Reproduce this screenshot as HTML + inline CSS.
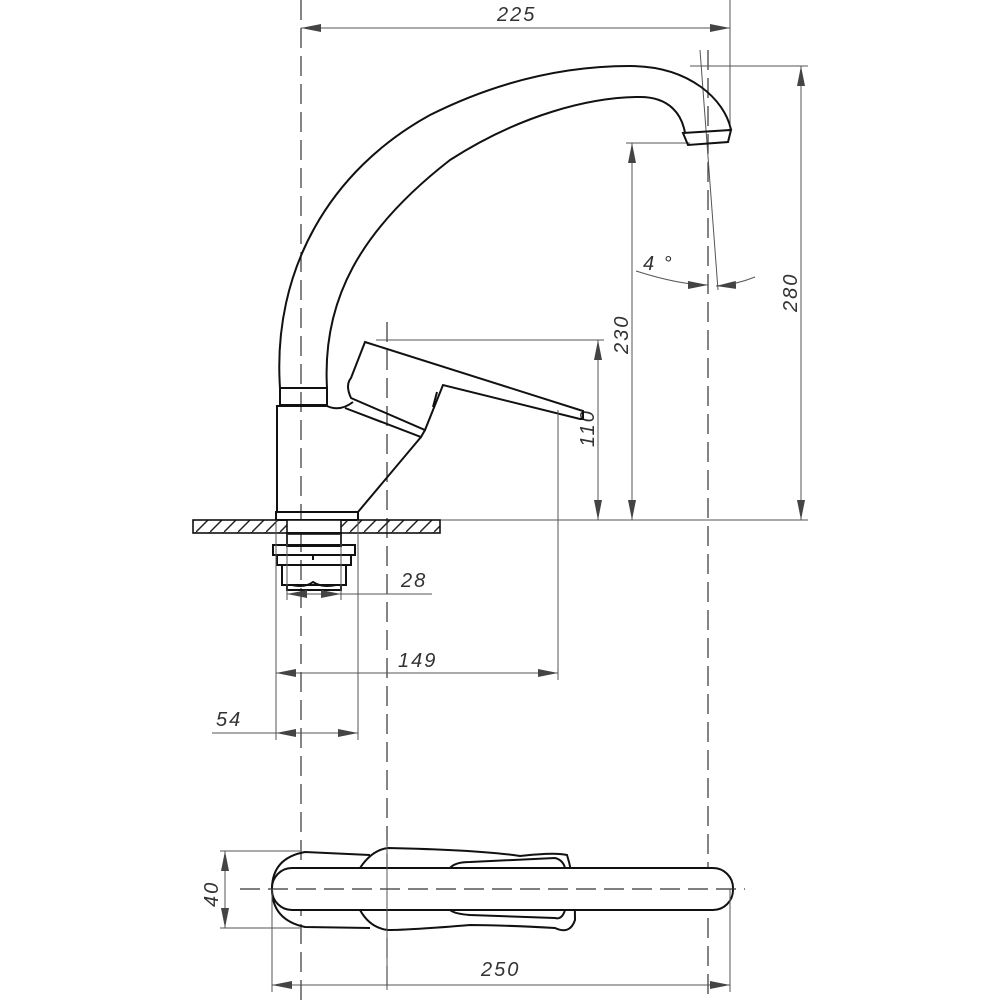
<!DOCTYPE html>
<html><head><meta charset="utf-8"><style>
html,body{margin:0;padding:0;background:#fff}
svg{display:block}
text{font-family:"Liberation Sans",sans-serif;font-style:italic;font-size:20px;letter-spacing:2px;fill:#333}
.o{fill:none;stroke:#111;stroke-width:2}
.d{fill:none;stroke:#555;stroke-width:1}
.c{fill:none;stroke:#333;stroke-width:1.2;stroke-dasharray:20 8}
</style></head><body>
<svg width="1000" height="1000" viewBox="0 0 1000 1000">
<defs>
<marker id="a" viewBox="0 0 20 8" refX="20" refY="4" markerWidth="20" markerHeight="8" orient="auto-start-reverse" markerUnits="userSpaceOnUse"><path d="M0,0 L20,4 L0,8z" fill="#444"/></marker>
<pattern id="h" width="14" height="14" patternUnits="userSpaceOnUse"><path d="M0,14 L14,0" stroke="#222" stroke-width="1.5"/></pattern>
</defs>
<line class="c" x1="301" y1="0" x2="301" y2="1000"/>
<line class="c" x1="387" y1="322" x2="387" y2="990"/>
<line class="c" x1="708" y1="50" x2="708" y2="995"/>
<line class="d" x1="730" y1="0" x2="730" y2="132"/>
<line class="d" x1="301" y1="28" x2="730" y2="28" marker-start="url(#a)" marker-end="url(#a)"/>
<text x="497" y="21">225</text>
<line class="d" x1="690" y1="66" x2="808" y2="66"/>
<line class="d" x1="801" y1="66" x2="801" y2="520" marker-start="url(#a)" marker-end="url(#a)"/>
<text transform="translate(797,312) rotate(-90)">280</text>
<line class="d" x1="626" y1="143" x2="690" y2="143"/>
<line class="d" x1="632" y1="143" x2="632" y2="520" marker-start="url(#a)" marker-end="url(#a)"/>
<text transform="translate(628,354) rotate(-90)">230</text>
<line class="d" x1="376" y1="340" x2="604" y2="340"/>
<line class="d" x1="598" y1="340" x2="598" y2="520" marker-start="url(#a)" marker-end="url(#a)"/>
<text transform="translate(594,447) rotate(-90)">110</text>
<line class="d" x1="440" y1="520" x2="808" y2="520"/>
<line class="d" x1="700" y1="50" x2="718" y2="290"/>
<path class="d" d="M636,271 Q680,285 708,285" marker-end="url(#a)"/>
<path class="d" d="M755,277 Q735,285 716,286" marker-end="url(#a)"/>
<text x="643" y="270">4 °</text>
<path class="o" d="M280,388 C272,270 330,170 430,115 C510,75 580,66 630,66 C690,66 725,100 731,130"/>
<path class="o" d="M327,388 C322,300 360,230 450,160 C520,115 590,97 640,97 C670,97 682,115 685,133"/>
<polygon class="o" points="683,133 731,130 728,142 688,145"/>
<rect class="o" x="280" y="388" width="47" height="17"/>
<path class="o" d="M277,512 L277,406 L327,406 Q340,412 353,402"/>
<path class="o" d="M365,342 L583,411 L583,419 L580,419 L443,385 L425,430 L351,398 Q345,385 351,378 Z"/>
<path class="o" d="M345,408 L421,437 L425,430"/>
<path class="o" d="M421,437 L358,512"/>
<path class="o" d="M437,392 L433,407"/>
<rect class="o" x="276" y="512" width="82" height="8"/>
<rect x="193" y="520" width="247" height="13" fill="url(#h)" stroke="#111" stroke-width="1.6"/>
<rect x="287" y="520" width="54" height="14" fill="#fff" stroke="#111" stroke-width="1.6"/>
<rect class="o" x="287" y="533" width="54" height="13"/>
<rect class="o" x="273" y="545" width="82" height="10"/>
<rect class="o" x="277" y="555" width="74" height="10"/>
<rect class="o" x="282" y="565" width="64" height="20"/>
<path class="o" d="M287,585 L287,590 L341,590 L341,585 M292,585 Q305,588 313,582 Q322,588 336,585"/>
<line class="o" x1="313" y1="555" x2="313" y2="560"/>
<line class="d" x1="287" y1="534" x2="287" y2="600"/>
<line class="d" x1="341" y1="534" x2="341" y2="600"/>
<line class="d" x1="287" y1="594" x2="341" y2="594" marker-start="url(#a)" marker-end="url(#a)"/>
<line class="d" x1="341" y1="594" x2="432" y2="594"/>
<text x="401" y="587">28</text>
<line class="d" x1="276" y1="520" x2="276" y2="740"/>
<line class="d" x1="558" y1="410" x2="558" y2="680"/>
<line class="d" x1="276" y1="673" x2="558" y2="673" marker-start="url(#a)" marker-end="url(#a)"/>
<text x="398" y="667">149</text>
<line class="d" x1="358" y1="520" x2="358" y2="740"/>
<line class="d" x1="212" y1="733" x2="276" y2="733"/>
<line class="d" x1="276" y1="733" x2="358" y2="733" marker-start="url(#a)" marker-end="url(#a)"/>
<text x="216" y="726">54</text>
<path class="o" d="M370,855 L305,852 Q272,858 272,889 Q272,920 305,927 L370,928"/>
<path class="o" d="M360,868 Q372,850 388,848 Q480,850 520,856 Q555,852 567,855 Q575,880 575,920 Q570,935 555,928 Q500,925 470,925 Q410,930 388,930 Q370,928 360,910"/>
<path class="o" d="M450,868 Q455,862 470,862 L555,858 Q563,860 565,868 L565,910 Q562,920 555,918 L470,915 Q455,914 450,910"/>
<rect x="272" y="868" width="461" height="42" rx="20" fill="#fff" stroke="#111" stroke-width="2"/>
<line class="c" x1="240" y1="889" x2="745" y2="889"/>
<line class="d" x1="387" y1="840" x2="387" y2="990"/>
<line class="d" x1="220" y1="851" x2="300" y2="851"/>
<line class="d" x1="220" y1="928" x2="300" y2="928"/>
<line class="d" x1="225" y1="851" x2="225" y2="928" marker-start="url(#a)" marker-end="url(#a)"/>
<text transform="translate(218,907) rotate(-90)">40</text>
<line class="d" x1="272" y1="889" x2="272" y2="992"/>
<line class="d" x1="730" y1="889" x2="730" y2="992"/>
<line class="d" x1="272" y1="985" x2="730" y2="985" marker-start="url(#a)" marker-end="url(#a)"/>
<text x="481" y="976">250</text>
</svg>
</body></html>
